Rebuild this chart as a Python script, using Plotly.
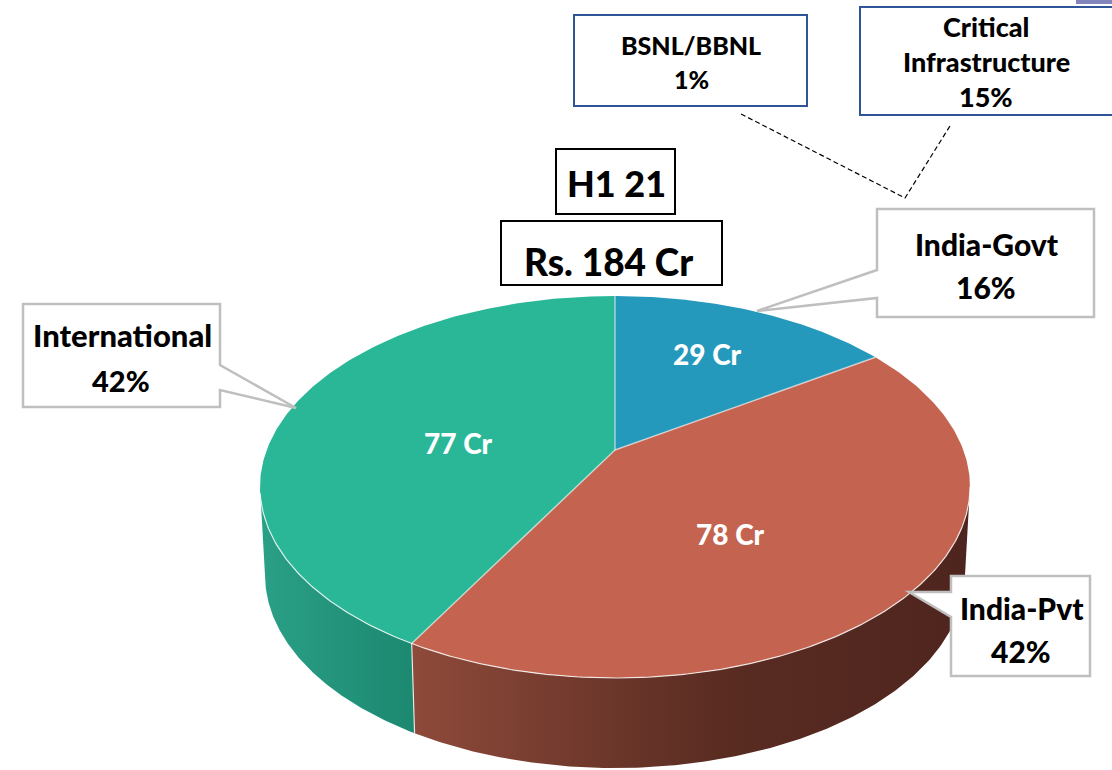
import numpy as np
import plotly.graph_objects as go

# ---- data ----
categories = ["India-Govt", "India-Pvt", "International"]
values_cr = [29, 78, 77]
shares_pct = [16, 42, 42]
value_labels = ["29 Cr", "78 Cr", "77 Cr"]
sub_categories = ["BSNL/BBNL", "Critical<br>Infrastructure"]
sub_shares_pct = [1, 15]
period = "H1 21"
total_label = "Rs. 184 Cr"

# ---- look of the tilted pie ----
FONT = "Lato"
CX, CY, A, B = 615, 487, 355, 191      # top face
BY, BA, BB = 575, 350, 193             # bottom rim
APEX = (615, 450)
WARP = 11.4                            # perspective skew of the angles (deg)
TOP_COLORS = ["#2599BC", "#C46450", "#29B798"]
WALL_STOPS = [None,
              [[0, "#8E4A3A"], [0.55, "#5A2C22"], [1, "#4E251E"]],
              [[0, "#2AA086"], [1, "#1C8870"]]]


def warp(phi):
    return phi - WARP * np.sin(np.radians(phi))


def rim(phi, cy=CY, a=A, b=B):
    t = np.radians(phi)
    return CX + a * np.sin(t), cy - b * np.cos(t)


edges = np.concatenate([[0], np.cumsum(values_cr)]) / sum(values_cr) * 360.0
fig = go.Figure()

# side walls (only the front half of the rim is visible)
for i in range(len(values_cr)):
    if WALL_STOPS[i] is None:
        continue
    lo, hi = max(warp(edges[i]), 90), min(warp(edges[i + 1]), 270)
    phi = np.linspace(lo, hi, 160)
    xt, yt = rim(phi)
    xb, yb = rim(phi[::-1], BY, BA, BB)
    xs = np.concatenate([xt, xb, xt[:1]])
    ys = np.concatenate([yt, yb, yt[:1]])
    fig.add_trace(go.Scatter(
        x=xs, y=ys, mode="lines", line=dict(width=0), fill="toself",
        fillgradient=dict(type="horizontal", colorscale=WALL_STOPS[i],
                          start=float(xs.min()), stop=float(xs.max())),
        hoverinfo="skip", showlegend=False))

# top face
for i in range(len(values_cr)):
    phi = np.linspace(warp(edges[i]), warp(edges[i + 1]), 220)
    x, y = rim(phi)
    fig.add_trace(go.Scatter(
        x=np.concatenate([[APEX[0]], x, [APEX[0]]]),
        y=np.concatenate([[APEX[1]], y, [APEX[1]]]),
        mode="lines", line=dict(width=0), fill="toself",
        fillcolor=TOP_COLORS[i], hoverinfo="skip", showlegend=False))

# pale separators on the top face and along the front rim
for e in edges[:-1]:
    x, y = rim(warp(e))
    fig.add_trace(go.Scatter(x=[APEX[0], x], y=[APEX[1], y], mode="lines",
                             line=dict(color="rgba(255,255,255,0.55)", width=1.5),
                             hoverinfo="skip", showlegend=False))
phi = np.linspace(90, 268, 300)
x, y = rim(phi)
fig.add_trace(go.Scatter(x=x, y=y, mode="lines",
                         line=dict(color="rgba(255,255,255,0.8)", width=1.2),
                         hoverinfo="skip", showlegend=False))
xt, yt = rim(warp(edges[2]))
xb, yb = rim(warp(edges[2]), BY, BA, BB)
fig.add_trace(go.Scatter(x=[xt, xb], y=[yt, yb], mode="lines",
                         line=dict(color="rgba(255,255,255,0.8)", width=1.2),
                         hoverinfo="skip", showlegend=False))

# ---- callouts, boxes ----
GREY = "#BFBFBF"
BLUE = "#2F5597"


def path(points):
    return "M " + " L ".join(f"{px},{py}" for px, py in points) + " Z"


shapes = [
    # dashed leader lines
    dict(type="path", path="M 741,114 L 905,198 L 950,126", xref="x", yref="y",
         line=dict(color="#000000", width=1.2, dash="5px,3px")),
    # sub-category boxes
    dict(type="rect", x0=574, x1=807, y0=15, y1=106, xref="x", yref="y",
         line=dict(color=BLUE, width=2), fillcolor="#FFFFFF"),
    dict(type="rect", x0=860, x1=1120, y0=7, y1=115, xref="x", yref="y",
         line=dict(color=BLUE, width=2), fillcolor="#FFFFFF"),
    # title boxes
    dict(type="rect", x0=556, x1=675, y0=149, y1=214, xref="x", yref="y",
         line=dict(color="#000000", width=2), fillcolor="#FFFFFF"),
    dict(type="rect", x0=501, x1=722, y0=221, y1=285, xref="x", yref="y",
         line=dict(color="#000000", width=2), fillcolor="#FFFFFF"),
    # corner sliver
    dict(type="rect", x0=1076, x1=1112, y0=0, y1=4, xref="x", yref="y",
         line=dict(width=0), fillcolor="#8585BE"),
]
callouts = [
    [(877, 209), (1094, 209), (1094, 317), (877, 317), (877, 298), (757, 311), (877, 270)],
    [(951, 576), (1090, 576), (1090, 676), (951, 676), (951, 617), (909, 592), (951, 592)],
    [(23, 304), (220, 304), (220, 365), (296, 408), (220, 390), (220, 407), (23, 407)],
]
for pts in callouts:
    shapes.append(dict(type="path", path=path(pts), xref="x", yref="y",
                       line=dict(color=GREY, width=2.5), fillcolor="#FFFFFF"))


def text(x, y, s, size, color="#000000"):
    return dict(x=x, y=y, xref="x", yref="y", text=s, showarrow=False,
                xanchor="center", yanchor="middle", align="center",
                font=dict(family=FONT, size=size, color=color, weight=900))


annotations = [
    text(616, 183, period, 36),
    text(608, 261, total_label, 37),
    text(987, 244, categories[0], 30),
    text(986, 287, f"{shares_pct[0]}%", 30),
    text(1022, 608, categories[1], 30),
    text(1021, 651, f"{shares_pct[1]}%", 30),
    text(122, 335, categories[2], 31),
    text(121, 380, f"{shares_pct[2]}%", 29),
    text(707, 354, value_labels[0], 28, "#FFFFFF"),
    text(730, 534, value_labels[1], 28, "#FFFFFF"),
    text(458, 443, value_labels[2], 28, "#FFFFFF"),
    text(691, 45, sub_categories[0], 25),
    text(691, 79, f"{sub_shares_pct[0]}%", 25),
    text(986, 26, sub_categories[1].split("<br>")[0], 27),
    text(986, 61, sub_categories[1].split("<br>")[1], 27),
    text(986, 96, f"{sub_shares_pct[1]}%", 27),
]

fig.update_layout(
    width=1112, height=770, margin=dict(l=0, r=0, t=0, b=0),
    paper_bgcolor="#FFFFFF", plot_bgcolor="#FFFFFF", showlegend=False,
    xaxis=dict(range=[0, 1112], visible=False, fixedrange=True),
    yaxis=dict(range=[770, 0], visible=False, fixedrange=True),
    shapes=shapes, annotations=annotations,
)
fig.write_html("out.html", config=dict(displayModeBar=False),
               post_script="document.body.style.margin='0';")
